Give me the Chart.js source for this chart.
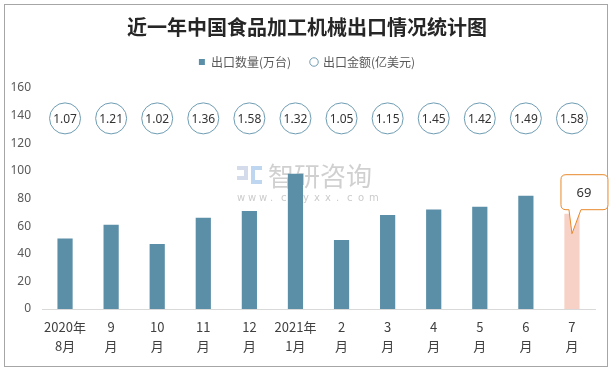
<!DOCTYPE html>
<html>
<head>
<meta charset="utf-8">
<script src="https://cdn.jsdelivr.net/npm/chart.js"></script>
<style>
  html, body { margin: 0; padding: 0; background: #ffffff; }
  #wrap { position: relative; width: 614px; height: 370px; }
</style>
</head>
<body>
<div id="wrap"><canvas id="chart" width="614" height="370"></canvas></div>
<script>
// categories: two-line month labels
const months = [
  ['2020年', '8月'], ['9', '月'], ['10', '月'], ['11', '月'], ['12', '月'],
  ['2021年', '1月'], ['2', '月'], ['3', '月'], ['4', '月'], ['5', '月'], ['6', '月'], ['7', '月']
];
// 出口数量(万台)
const quantity = [51, 61, 47, 66, 71, 98, 50, 68, 72, 74, 82, 69];
// 出口金额(亿美元)
const amount = [1.07, 1.21, 1.02, 1.36, 1.58, 1.32, 1.05, 1.15, 1.45, 1.42, 1.49, 1.58];
// the amount circles sit in one row on the quantity axis
const circleRow = 138;
const yTicks = [0, 20, 40, 60, 80, 100, 120, 140, 160];

const barColor = '#5B8FA8';
const lastColor = '#F8D1C6';
const ringColor = '#6F9DB3';

const frame = {
  id: 'frame',
  beforeDraw(chart) {
    const c = chart.ctx;
    c.save();
    c.fillStyle = '#ffffff';
    c.fillRect(0, 0, chart.width, chart.height);
    c.strokeStyle = '#a6a6a6';
    c.lineWidth = 1;
    c.strokeRect(4.5, 4.5, 603, 362);
    c.restore();
  }
};

// extra room below the legend
const legendGap = {
  id: 'legendGap',
  beforeInit(chart) {
    const fit = chart.legend.fit;
    chart.legend.fit = function () {
      fit.bind(chart.legend)();
      this.height += 10;
    };
  }
};

const watermark = {
  id: 'watermark',
  beforeDatasetsDraw(chart) {
    const c = chart.ctx;
    c.save();
    // small logo blocks
    c.fillStyle = 'rgba(160,175,210,0.45)';
    c.fillRect(237, 166, 11, 4);
    c.fillRect(244, 170, 4, 6);
    c.fillRect(237, 176, 11, 4);
    c.fillStyle = 'rgba(110,165,220,0.45)';
    c.fillRect(251, 166, 11, 4);
    c.fillRect(251, 170, 4, 10);
    c.fillRect(251, 180, 11, 4);
    c.fillStyle = 'rgba(150,150,150,0.45)';
    c.font = '26px "Noto Sans CJK SC"';
    c.textBaseline = 'middle';
    c.textAlign = 'left';
    c.fillText('智研咨询', 268, 176);
    c.font = '10px "DejaVu Sans"';
    c.fillStyle = 'rgba(160,160,160,0.55)';
    const w = 'www.chyxx.com';
    for (let i = 0; i < w.length; i++) {
      c.fillText(w[i], 237 + i * 11, 198);
    }
    c.restore();
  }
};

const labels = {
  id: 'labels',
  afterDatasetsDraw(chart) {
    const c = chart.ctx;
    c.save();
    // amount text inside circles
    const pts = chart.getDatasetMeta(1).data;
    c.fillStyle = '#333333';
    c.font = '12px "Noto Sans", "DejaVu Sans"';
    c.textAlign = 'center';
    c.textBaseline = 'middle';
    pts.forEach((p, i) => c.fillText(amount[i].toFixed(2), p.x, p.y + 1));

    // callout on the last bar
    const bars = chart.getDatasetMeta(0).data;
    const last = bars.length - 1;
    const b = bars[last];
    const bx = b.x, by = b.y;
    const L = bx - 11, R = bx + 36, T = by - 39, B = by - 4, r = 5;
    c.beginPath();
    c.moveTo(L + r, T);
    c.lineTo(R - r, T);
    c.quadraticCurveTo(R, T, R, T + r);
    c.lineTo(R, B - r);
    c.quadraticCurveTo(R, B, R - r, B);
    c.lineTo(bx + 9, B);
    c.lineTo(bx, by + 20);
    c.lineTo(bx - 3, B);
    c.lineTo(L + r, B);
    c.quadraticCurveTo(L, B, L, B - r);
    c.lineTo(L, T + r);
    c.quadraticCurveTo(L, T, L + r, T);
    c.closePath();
    c.fillStyle = '#ffffff';
    c.fill();
    c.strokeStyle = '#E8892A';
    c.lineWidth = 1;
    c.stroke();
    c.fillStyle = '#333333';
    c.font = '13px "Noto Sans", "DejaVu Sans"';
    c.fillText(String(quantity[last]), bx + 12, (T + B) / 2 + 1);
    c.restore();
  }
};

new Chart(document.getElementById('chart'), {
  type: 'bar',
  data: {
    labels: months,
    datasets: [
      {
        label: '出口数量(万台)',
        data: quantity,
        backgroundColor: quantity.map((v, i) => i === quantity.length - 1 ? lastColor : barColor),
        categoryPercentage: 1,
        barPercentage: 0.33,
        order: 2
      },
      {
        type: 'line',
        label: '出口金额(亿美元)',
        data: amount.map(() => circleRow),
        showLine: false,
        pointStyle: 'circle',
        pointRadius: 15.5,
        pointHoverRadius: 15.5,
        pointBackgroundColor: '#ffffff',
        pointBorderColor: ringColor,
        pointBorderWidth: 1,
        order: 1
      }
    ]
  },
  options: {
    responsive: false,
    animation: false,
    events: [],
    layout: { padding: { left: 0, right: 0, top: 0, bottom: 6 } },
    plugins: {
      title: {
        display: true,
        text: '近一年中国食品加工机械出口情况统计图',
        color: '#262626',
        font: { family: '"Noto Sans CJK SC"', size: 20, weight: 'bold' },
        padding: { top: 15, bottom: -3 }
      },
      legend: {
        display: true,
        labels: {
          usePointStyle: true,
          boxWidth: 6,
          boxHeight: 6,
          padding: 20,
          color: '#595959',
          font: { family: '"Noto Sans CJK SC"', size: 12 },
          generateLabels(chart) {
            const items = Chart.defaults.plugins.legend.labels.generateLabels(chart);
            items.sort((a, b) => a.datasetIndex - b.datasetIndex);
            items[0].pointStyle = 'rect';
            items[0].fillStyle = barColor;
            items[0].strokeStyle = barColor;
            items[1].pointStyle = 'circle';
            items[1].fillStyle = '#ffffff';
            items[1].strokeStyle = ringColor;
            items[1].lineWidth = 1;
            return items;
          }
        }
      },
      tooltip: { enabled: false }
    },
    scales: {
      x: {
        grid: { display: false, drawTicks: false },
        border: { display: true, color: '#d9d9d9' },
        ticks: {
          color: '#404040',
          padding: 8,
          maxRotation: 0,
          autoSkip: false,
          font: { family: '"Noto Sans CJK SC"', size: 13, lineHeight: 1.5 }
        }
      },
      y: {
        min: 0,
        max: 160,
        afterBuildTicks(scale) { scale.ticks = yTicks.map(v => ({ value: v })); },
        afterFit(scale) { scale.width = 42; },
        grid: { display: false, drawTicks: false },
        border: { display: false },
        ticks: {
          color: '#595959',
          padding: 11,
          font: { family: '"Noto Sans", "DejaVu Sans"', size: 12 }
        }
      },
      // empty right-hand strip, keeps the plot clear of the frame
      pad: {
        position: 'right',
        display: true,
        min: 0,
        max: 1,
        afterFit(scale) { scale.width = 19; },
        grid: { display: false, drawTicks: false },
        border: { display: false },
        ticks: { display: false }
      }
    }
  },
  plugins: [frame, legendGap, watermark, labels]
});
</script>
</body>
</html>
